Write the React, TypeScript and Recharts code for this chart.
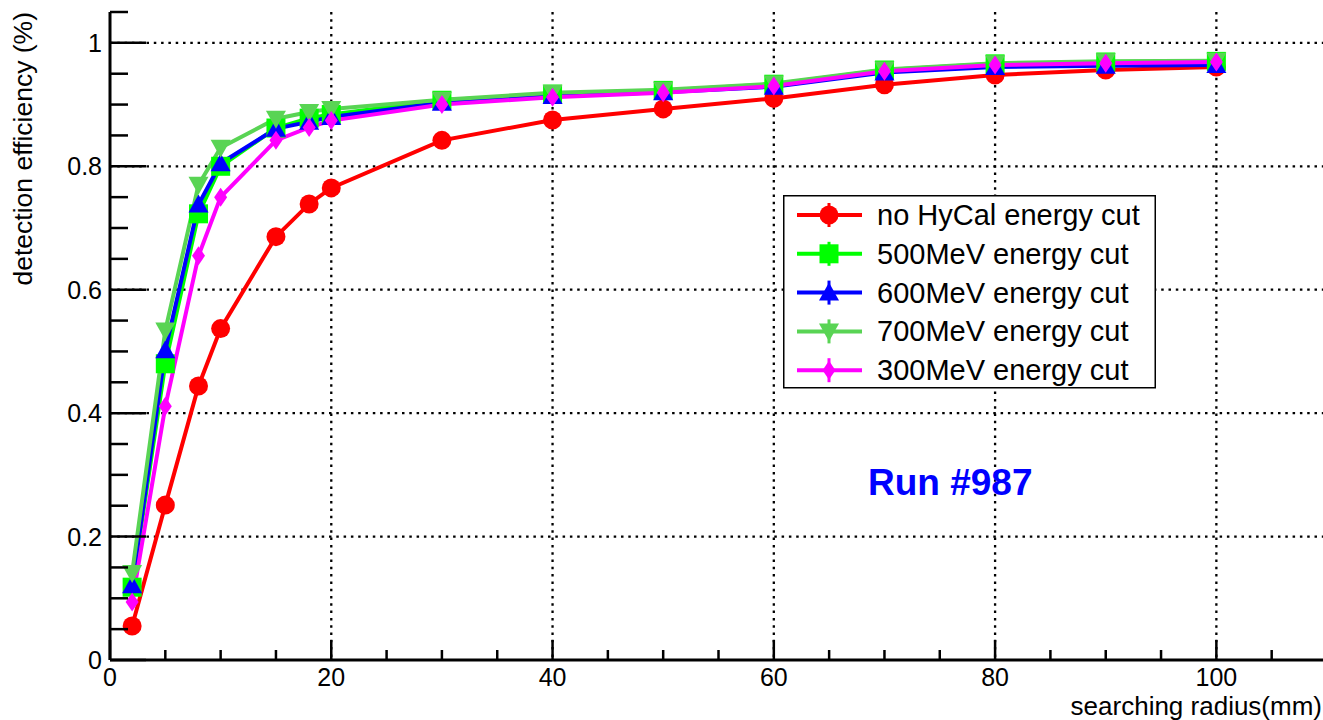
import React from "react";
import {
  CartesianGrid,
  Customized,
  Legend,
  Line,
  LineChart,
  XAxis,
  YAxis,
} from "recharts";

// searching radius (mm)
const radius = [2, 5, 8, 10, 15, 18, 20, 30, 40, 50, 60, 70, 80, 90, 100];

// detection efficiency per energy cut
const noCut = [0.055, 0.251, 0.444, 0.537, 0.686, 0.739, 0.765, 0.842, 0.875, 0.893, 0.910, 0.932, 0.948, 0.956, 0.961];
const cut500 = [0.118, 0.480, 0.723, 0.800, 0.862, 0.878, 0.884, 0.907, 0.917, 0.923, 0.933, 0.956, 0.966, 0.969, 0.970];
const cut600 = [0.121, 0.502, 0.738, 0.805, 0.861, 0.872, 0.880, 0.903, 0.914, 0.920, 0.929, 0.952, 0.961, 0.963, 0.964];
const cut700 = [0.141, 0.534, 0.770, 0.830, 0.877, 0.888, 0.893, 0.908, 0.919, 0.924, 0.934, 0.957, 0.967, 0.970, 0.971];
const cut300 = [0.094, 0.411, 0.655, 0.750, 0.842, 0.863, 0.874, 0.900, 0.912, 0.919, 0.930, 0.954, 0.964, 0.967, 0.969];

const xTicks = [0, 5, 10, 15, 20, 25, 30, 35, 40, 45, 50, 55, 60, 65, 70, 75, 80, 85, 90, 95, 100, 105, 110];
const xGrid = [20, 40, 60, 80, 100];
const yTicks = [0, 0.05, 0.1, 0.15, 0.2, 0.25, 0.3, 0.35, 0.4, 0.45, 0.5, 0.55, 0.6, 0.65, 0.7, 0.75, 0.8, 0.85, 0.9, 0.95, 1, 1.05];
const yGrid = [0.2, 0.4, 0.6, 0.8, 1];

const FONT = '"Liberation Sans", Arial, Helvetica, sans-serif';

type Shape = "circle" | "square" | "tri" | "triDown" | "diamond";

const series: { key: string; name: string; color: string; shape: Shape; values: number[] }[] = [
  { key: "noCut", name: "no HyCal energy cut", color: "#ff0000", shape: "circle", values: noCut },
  { key: "cut500", name: "500MeV energy cut", color: "#00ff00", shape: "square", values: cut500 },
  { key: "cut600", name: "600MeV energy cut", color: "#0000ff", shape: "tri", values: cut600 },
  { key: "cut700", name: "700MeV energy cut", color: "#59d454", shape: "triDown", values: cut700 },
  { key: "cut300", name: "300MeV energy cut", color: "#ff00ff", shape: "diamond", values: cut300 },
];

const rows = radius.map((r, i) => {
  const row: Record<string, number> = { r };
  series.forEach((s) => (row[s.key] = s.values[i]));
  return row;
});

function markerShape(shape: Shape, cx: number, cy: number, color: string) {
  switch (shape) {
    case "circle":
      return <circle cx={cx} cy={cy} r={9.5} fill={color} />;
    case "square":
      return <rect x={cx - 9.5} y={cy - 9.5} width={19} height={19} fill={color} />;
    case "tri":
      return <polygon points={`${cx - 10},${cy + 8} ${cx + 10},${cy + 8} ${cx},${cy - 10}`} fill={color} />;
    case "triDown":
      return <polygon points={`${cx - 10},${cy - 8} ${cx + 10},${cy - 8} ${cx},${cy + 10}`} fill={color} />;
    case "diamond":
      return <polygon points={`${cx},${cy - 9.5} ${cx + 6.5},${cy} ${cx},${cy + 9.5} ${cx - 6.5},${cy}`} fill={color} />;
  }
}

const makeDot = (shape: Shape, color: string) => (p: any) => {
  const { cx, cy, index } = p;
  if (cx == null || cy == null) return <g key={index} />;
  return <g key={index}>{markerShape(shape, cx, cy, color)}</g>;
};

const isMajor = (v: number, step: number) => Math.abs(v / step - Math.round(v / step)) < 1e-6;

const XTick = (p: any) => {
  const { x, y, payload } = p;
  const v = payload.value as number;
  const major = isMajor(v, 20);
  return (
    <g>
      <line x1={x} x2={x} y1={y} y2={y - (major ? 20 : 10)} stroke="#000" strokeWidth={2.5} />
      {major && v <= 100 && (
        <text x={x} y={y + 26} textAnchor="middle" fontSize={25} fontFamily={FONT} fill="#000">
          {v}
        </text>
      )}
    </g>
  );
};

const YTick = (p: any) => {
  const { x, y, payload } = p;
  const v = payload.value as number;
  const major = isMajor(v, 0.2);
  const label = v === 0 ? "0" : v === 1 ? "1" : v.toFixed(1);
  return (
    <g>
      <line x1={x} x2={x + (major ? 36 : 18)} y1={y} y2={y} stroke="#000" strokeWidth={2.5} />
      {major && (
        <text x={x - 8} y={y + 9} textAnchor="end" fontSize={25} fontFamily={FONT} fill="#000">
          {label}
        </text>
      )}
    </g>
  );
};

const LegendBox = () => (
  <svg width={373} height={194} style={{ display: "block" }}>
    <rect x={0.75} y={0.75} width={371.5} height={192} fill="#fff" stroke="#000" strokeWidth={1.5} />
    {series.map((s, i) => {
      const cy = 20 + i * 38.8;
      return (
        <g key={s.key}>
          <line x1={14} x2={79} y1={cy} y2={cy} stroke={s.color} strokeWidth={4} />
          <line x1={46} x2={46} y1={cy - 12} y2={cy + 12} stroke={s.color} strokeWidth={3} />
          {markerShape(s.shape, 46, cy, s.color)}
          <text x={94} y={cy + 10} fontSize={29} fontFamily={FONT} fill="#000">
            {s.name}
          </text>
        </g>
      );
    })}
  </svg>
);

const RunLabel = () => (
  <text x={868} y={495} fontSize={37} fontWeight="bold" fontFamily={FONT} fill="#0000ff">
    Run #987
  </text>
);

export default function App() {
  return (
    <div
      style={{
        position: "absolute",
        left: 0,
        top: 0,
        width: 1323,
        height: 720,
        overflow: "hidden",
        background: "#fff",
        fontFamily: FONT,
      }}
    >
      <LineChart width={1340} height={720} data={rows} margin={{ top: 12, right: 13, bottom: 0, left: 0 }}>
        <CartesianGrid
          stroke="#000"
          strokeWidth={2.3}
          strokeDasharray="2.5 4.8"
          horizontalValues={yGrid}
          verticalValues={xGrid}
        />
        <XAxis
          dataKey="r"
          type="number"
          domain={[0, 110]}
          ticks={xTicks}
          interval={0}
          height={60}
          tickSize={0}
          tickMargin={0}
          tickLine={false}
          axisLine={{ stroke: "#000", strokeWidth: 3 }}
          tick={XTick}
          label={{
            content: (props: any) => {
              const vb = props.viewBox;
              return (
                <text x={vb.x + vb.width - 5} y={vb.y + 55} textAnchor="end" fontSize={26} fontFamily={FONT} fill="#000">
                  searching radius(mm)
                </text>
              );
            },
          }}
        />
        <XAxis
          xAxisId="top"
          orientation="top"
          type="number"
          domain={[0, 110]}
          height={0}
          tick={false}
          tickLine={false}
          axisLine={{ stroke: "#000", strokeWidth: 2.5 }}
        />
        <YAxis
          type="number"
          domain={[0, 1.05]}
          ticks={yTicks}
          interval={0}
          width={110}
          tickSize={0}
          tickMargin={0}
          tickLine={false}
          axisLine={{ stroke: "#000", strokeWidth: 3 }}
          tick={YTick}
          label={{
            content: () => (
              <text
                x={32}
                y={12}
                transform="rotate(-90, 32, 12)"
                textAnchor="end"
                fontSize={26.5}
                fontFamily={FONT}
                fill="#000"
              >
                detection efficiency (%)
              </text>
            ),
          }}
        />
        {series.map((s) => (
          <Line
            key={s.key}
            dataKey={s.key}
            name={s.name}
            type="linear"
            stroke={s.color}
            strokeWidth={4}
            dot={makeDot(s.shape, s.color)}
            activeDot={false}
            isAnimationActive={false}
          />
        ))}
        <Legend
          layout="vertical"
          align="center"
          verticalAlign="middle"
          content={LegendBox}
          wrapperStyle={{ position: "absolute", left: 783, top: 195, width: 373, height: 194 }}
        />
        <Customized component={RunLabel} />
      </LineChart>
    </div>
  );
}
